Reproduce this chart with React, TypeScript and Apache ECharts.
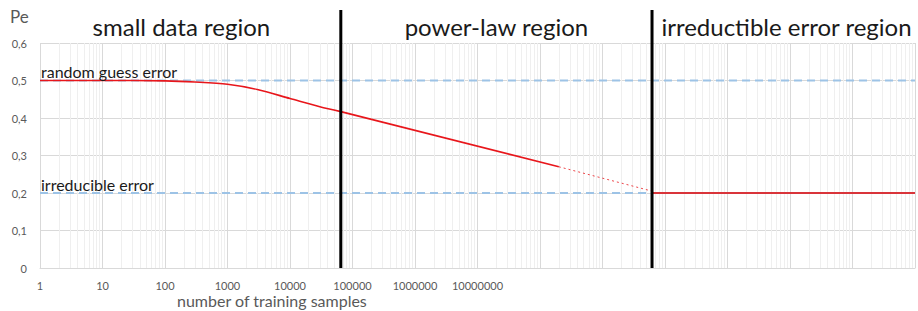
import React, { useEffect, useRef } from "react";
import * as echarts from "echarts";

const xTickLabels = ["1", "10", "100", "1000", "10000", "100000", "1000000", "10000000"];
const yTickLabels = ["0", "0,1", "0,2", "0,3", "0,4", "0,5", "0,6"];
const smallDataSamples = [1, 10, 100, 300, 1000, 3000, 10000, 30000, 65000];
const smallDataError = [0.5, 0.5, 0.499, 0.496, 0.49, 0.476, 0.452, 0.43, 0.417];
const powerLawSamples = [65000, 2e8];
const powerLawError = [0.417, 0.27];
const extrapolationSamples = [2e8, 6.2e9];
const extrapolationError = [0.27, 0.205];
const irreducibleSamples = [6.2e9, 1e14];
const irreducibleValues = [0.2, 0.2];
const referenceLevels = [0.5, 0.2];
const referenceNames = ["random guess error", "irreducible error"];
const regionBoundaries = [65000, 6.2e9];
const regionTitles = ["small data region", "power-law region", "irreductible error region"];
const xMinSamples = 1;
const xMaxSamples = 1e14;

const FONT = "Lato, 'Open Sans', sans-serif";

const toPts = (xs: number[], ys: number[]) => xs.map((x, i) => [Math.log10(x), ys[i]]);

export default function App() {
  const ref = useRef<HTMLDivElement>(null);
  useEffect(() => {
    if (!ref.current) return;
    const chart = echarts.init(ref.current, undefined, { renderer: "svg" });
    const lo = Math.log10(xMinSamples);
    const hi = Math.log10(xMaxSamples);
    const minorLines: any[] = [];
    for (let d = lo; d < hi; d++) {
      for (let k = 2; k <= 9; k++) minorLines.push({ xAxis: Math.log10(k * Math.pow(10, d)) });
    }
    const option: any = {
      animation: false,
      grid: { left: 40, right: 1, top: 43, bottom: 43, containLabel: false },
      xAxis: {
        type: "value",
        min: lo,
        max: hi,
        interval: 1,
        axisLine: { show: true, lineStyle: { color: "#d9d9d9", width: 1 } },
        axisTick: { show: false },
        splitLine: { show: true, lineStyle: { color: "#d9d9d9", width: 1 } },
        axisLabel: {
          color: "#595959",
          fontSize: 11,
          fontFamily: FONT,
          margin: 12,
          formatter: (v: number) => xTickLabels[Math.round(v)] ?? "",
        },
      },
      yAxis: {
        type: "value",
        min: 0,
        max: 0.6,
        interval: 0.1,
        axisLine: { show: false },
        axisTick: { show: false },
        splitLine: { show: true, lineStyle: { color: "#d9d9d9", width: 1 } },
        axisLabel: {
          color: "#595959",
          fontSize: 11,
          fontFamily: FONT,
          margin: 13,
          formatter: (v: number) => yTickLabels[Math.round(v * 10)] ?? "",
        },
      },
      series: [
        {
          type: "line",
          data: [],
          z: 1,
          silent: true,
          markLine: {
            z: 1,
            silent: true,
            symbol: "none",
            label: { show: false },
            lineStyle: { color: "#efefef", width: 1, type: "solid" },
            data: minorLines,
          },
        },
        ...referenceLevels.map((lvl) => ({
          type: "line",
          z: 10,
          showSymbol: false,
          silent: true,
          data: [
            [lo, lvl],
            [hi, lvl],
          ],
          lineStyle: { color: "#9dc3e6", width: 2, type: [8, 5] },
        })),
        {
          type: "line",
          z: 12,
          showSymbol: false,
          smooth: 0.3,
          data: toPts(smallDataSamples, smallDataError),
          lineStyle: { color: "#e8161b", width: 1.6 },
        },
        {
          type: "line",
          z: 12,
          showSymbol: false,
          data: toPts(powerLawSamples, powerLawError),
          lineStyle: { color: "#e8161b", width: 1.6 },
        },
        {
          type: "line",
          z: 12,
          showSymbol: false,
          data: toPts(extrapolationSamples, extrapolationError),
          lineStyle: { color: "#e8161b", width: 1, type: [2, 3], opacity: 0.8 },
        },
        {
          type: "line",
          z: 12,
          showSymbol: false,
          data: toPts(irreducibleSamples, irreducibleValues),
          lineStyle: { color: "#d9343a", width: 2 },
        },
      ],
    };
    chart.setOption(option);

    const px = (x: number) => chart.convertToPixel({ xAxisIndex: 0 }, x) as number;
    const py = (y: number) => chart.convertToPixel({ yAxisIndex: 0 }, y) as number;
    const x0 = px(lo);
    const x1 = px(hi);
    const yBottom = py(0);
    const bx = regionBoundaries.map((b) => px(Math.log10(b)));
    const edges = [x0, ...bx, x1];
    const titleOffsets = [-9, 0, 3];
    const graphics: any[] = [];
    bx.forEach((x) => {
      graphics.push({
        type: "line",
        z: 100,
        shape: { x1: x, y1: 10, x2: x, y2: yBottom },
        style: { stroke: "#000000", lineWidth: 3 },
      });
    });
    regionTitles.forEach((t, i) => {
      graphics.push({
        type: "text",
        z: 100,
        x: (edges[i] + edges[i + 1]) / 2 + titleOffsets[i],
        y: 26,
        style: {
          text: t,
          fill: "#1a1a1a",
          font: `24px ${FONT}`,
          align: "center",
          verticalAlign: "middle",
        },
      });
    });
    referenceNames.forEach((n, i) => {
      graphics.push({
        type: "text",
        z: 100,
        x: x0 + 1,
        y: py(referenceLevels[i]) - 9,
        style: {
          text: n,
          fill: "#1a1a1a",
          font: `16px ${FONT}`,
          align: "left",
          verticalAlign: "middle",
        },
      });
    });
    graphics.push({
      type: "text",
      x: 10,
      y: 16,
      style: { text: "Pe", fill: "#595959", font: `17px ${FONT}`, align: "left", verticalAlign: "middle" },
    });
    graphics.push({
      type: "text",
      x: 177,
      y: 300,
      style: {
        text: "number of training samples",
        fill: "#595959",
        font: `16px ${FONT}`,
        align: "left",
        verticalAlign: "middle",
      },
    });
    chart.setOption({ graphic: graphics });
    return () => chart.dispose();
  }, []);
  return <div ref={ref} style={{ position: "absolute", left: 0, top: 0, width: 918, height: 311 }} />;
}
